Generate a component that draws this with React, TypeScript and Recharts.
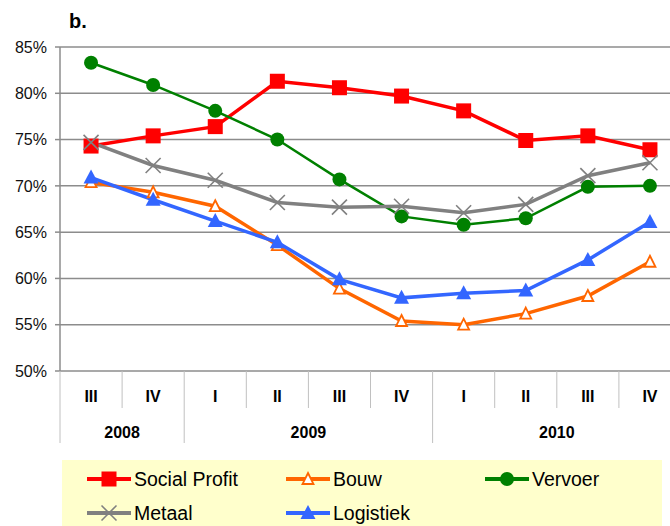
import React from "react";
import { LineChart, Line, XAxis, YAxis, CartesianGrid, Legend } from "recharts";

const quarters = ["III", "IV", "I", "II", "III", "IV", "I", "II", "III", "IV"];
const years = ["2008", "2008", "2009", "2009", "2009", "2009", "2010", "2010", "2010", "2010"];
const socialProfit = [74.3, 75.4, 76.4, 81.3, 80.6, 79.7, 78.1, 74.9, 75.4, 73.9];
const bouw = [70.4, 69.3, 67.8, 63.6, 58.9, 55.4, 55.0, 56.2, 58.1, 61.8];
const vervoer = [83.3, 80.9, 78.1, 75.0, 70.7, 66.7, 65.8, 66.5, 69.9, 70.0];
const metaal = [74.7, 72.2, 70.6, 68.2, 67.7, 67.8, 67.1, 68.0, 71.1, 72.5];
const logistiek = [70.9, 68.5, 66.2, 63.9, 59.9, 57.9, 58.4, 58.7, 62.0, 66.1];
const yTicks = [50, 55, 60, 65, 70, 75, 80, 85];

const data = quarters.map((q, i) => ({
  key: `${years[i]}-${q}-${i}`,
  q,
  year: years[i],
  socialProfit: socialProfit[i],
  bouw: bouw[i],
  vervoer: vervoer[i],
  metaal: metaal[i],
  logistiek: logistiek[i],
}));

const FONT = "'Liberation Sans', Arial, sans-serif";
const GRID = "#8c8c8c";
const HALF_BAND = 31.05;

type MarkerKind = "square" | "openTriangle" | "circle" | "cross" | "triangle";

function Marker({ kind, cx, cy, color }: { kind: MarkerKind; cx: number; cy: number; color: string }) {
  if (kind === "square") {
    return <rect x={cx - 7.5} y={cy - 7.5} width={15} height={15} fill={color} />;
  }
  if (kind === "circle") {
    return <circle cx={cx} cy={cy} r={7} fill={color} />;
  }
  if (kind === "cross") {
    return (
      <g stroke={color} strokeWidth={1.6}>
        <line x1={cx - 7.5} y1={cy - 7.5} x2={cx + 7.5} y2={cy + 7.5} />
        <line x1={cx - 7.5} y1={cy + 7.5} x2={cx + 7.5} y2={cy - 7.5} />
      </g>
    );
  }
  if (kind === "triangle") {
    return <polygon points={`${cx},${cy - 8} ${cx + 7.5},${cy + 6} ${cx - 7.5},${cy + 6}`} fill={color} />;
  }
  return (
    <polygon
      points={`${cx},${cy - 6} ${cx + 5.5},${cy + 5} ${cx - 5.5},${cy + 5}`}
      fill="#ffffff"
      stroke={color}
      strokeWidth={1.8}
    />
  );
}

const series: { key: string; name: string; color: string; marker: MarkerKind; width: number }[] = [
  { key: "socialProfit", name: "Social Profit", color: "#ff0000", marker: "square", width: 3.5 },
  { key: "bouw", name: "Bouw", color: "#ff6600", marker: "openTriangle", width: 3.5 },
  { key: "vervoer", name: "Vervoer", color: "#008000", marker: "circle", width: 2.5 },
  { key: "metaal", name: "Metaal", color: "#808080", marker: "cross", width: 3.5 },
  { key: "logistiek", name: "Logistiek", color: "#3366ff", marker: "triangle", width: 3.5 },
];

const legendPos: { left: number; top: number }[] = [
  { left: 25, top: 19 },
  { left: 224, top: 19 },
  { left: 423, top: 19 },
  { left: 25, top: 53 },
  { left: 224, top: 53 },
];

function CategoryTick(props: any) {
  const { x, y, index } = props;
  const q = quarters[index];
  const yr = years[index];
  const firstOfYear = index === 0 || years[index - 1] !== yr;
  let yearCenter: number | null = null;
  if (firstOfYear) {
    let last = index;
    while (last + 1 < years.length && years[last + 1] === yr) last++;
    yearCenter = (index + last) / 2;
  }
  const yearX = yearCenter !== null ? x + (yearCenter - index) * HALF_BAND * 2 : 0;
  return (
    <g>
      <line x1={x - HALF_BAND} y1={y} x2={x - HALF_BAND} y2={y + (firstOfYear ? 72 : 37)} stroke="#c0c0c0" strokeWidth={1} />
      <text x={x} y={y + 31} textAnchor="middle" fontFamily={FONT} fontWeight="bold" fontSize={16} fill="#000">
        {q}
      </text>
      {yearCenter !== null && (
        <text x={yearX} y={y + 67} textAnchor="middle" fontFamily={FONT} fontWeight="bold" fontSize={16} fill="#000">
          {yr}
        </text>
      )}
    </g>
  );
}

function LegendContent() {
  return (
    <div style={{ position: "relative", width: 600, height: 66, background: "#ffffcc" }}>
      {series.map((s, i) => (
        <div key={s.key} style={{ position: "absolute", left: legendPos[i].left, top: legendPos[i].top - 12, height: 24, display: "flex", alignItems: "center" }}>
          <svg width={44} height={24} style={{ display: "block" }}>
            <line x1={0} y1={12} x2={44} y2={12} stroke={s.color} strokeWidth={4} />
            <Marker kind={s.marker} cx={22} cy={12} color={s.color} />
          </svg>
          <span style={{ fontFamily: FONT, fontSize: 19.5, color: "#000", marginLeft: 3, lineHeight: "24px", whiteSpace: "nowrap" }}>{s.name}</span>
        </div>
      ))}
    </div>
  );
}

export default function App() {
  return (
    <div style={{ position: "fixed", left: 0, top: 0, width: 670, height: 526, overflow: "hidden", background: "#fff" }}>
      <div style={{ position: "absolute", left: 69, top: 11, fontFamily: FONT, fontWeight: "bold", fontSize: 20, lineHeight: "20px" }}>b.</div>
      <LineChart width={682} height={526} data={data} margin={{ top: 47, right: 1, left: 0, bottom: 83 }}>
        <CartesianGrid horizontal vertical={false} stroke={GRID} strokeWidth={1.5} />
        <XAxis
          dataKey="key"
          padding={{ left: HALF_BAND, right: HALF_BAND }}
          height={72}
          axisLine={false}
          tickLine={false}
          tickSize={0}
          tickMargin={0}
          interval={0}
          tick={<CategoryTick />}
        />
        <YAxis
          width={60}
          domain={[50, 85]}
          ticks={yTicks}
          interval={0}
          tickFormatter={(v: number) => `${v}%`}
          axisLine={{ stroke: GRID, strokeWidth: 1.5 }}
          tickLine={{ stroke: GRID, strokeWidth: 1.5 }}
          tickSize={5}
          tickMargin={8}
          tick={{ fontFamily: FONT, fontSize: 16, fill: "#111" }}
        />
        <Legend
          verticalAlign="middle"
          layout="horizontal"
          wrapperStyle={{ left: 62, top: 460, width: 600, height: 66 }}
          content={<LegendContent />}
        />
        {series.map((s) => (
          <Line
            key={s.key}
            dataKey={s.key}
            name={s.name}
            stroke={s.color}
            strokeWidth={s.width}
            isAnimationActive={false}
            dot={(p: any) => <Marker key={`${s.key}-${p.index}`} kind={s.marker} cx={p.cx} cy={p.cy} color={s.color} />}
            activeDot={false}
          />
        ))}
      </LineChart>
    </div>
  );
}
